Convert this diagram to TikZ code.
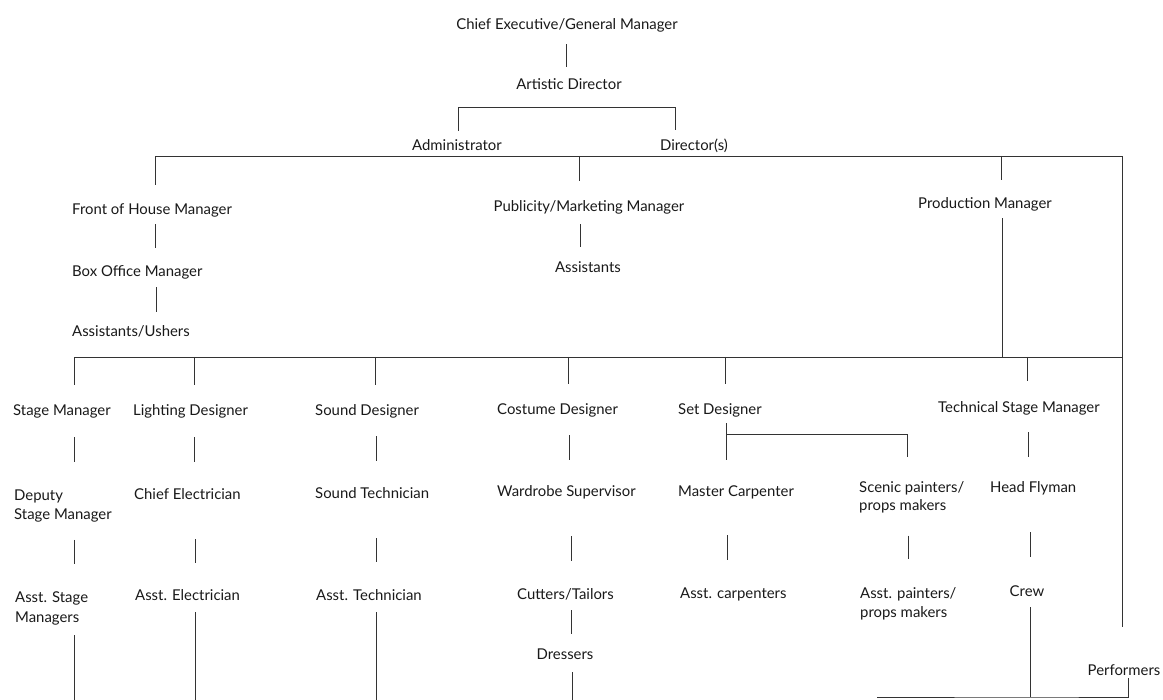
\documentclass[tikz,border=0pt]{standalone}
\usepackage{fontspec}
\setmainfont{Lato}
\newcommand\labfont{\fontsize{14.9}{19}\selectfont}
\tikzset{
  lbl/.style={inner sep=0pt, text height=10pt, text depth=3pt, font=\labfont, text=black!90},
  lblm/.style={inner sep=0pt, text height=10pt, anchor=base west, text=black!90},
  conn/.style={draw=black!80, line width=0.85pt},
}
\begin{document}
\begin{tikzpicture}[x=1pt,y=-1pt]
\useasboundingbox (0,0) rectangle (1163,700);
% ---------- nodes ----------
\node[lbl, anchor=base] (ce) at (567,30) {Chief Executive/General Manager};
\node[lbl, anchor=base] (ad) at (569,90) {Artistic Director};
\node[lbl, anchor=base] (adm) at (457,151) {Administrator};
\node[lbl, anchor=base] (dir) at (694,151) {Director(s)};
\node[lbl, anchor=base west] (foh) at (72,215) {Front of House Manager};
\node[lbl, anchor=base west] (box) at (72,277) {Box Office Manager};
\node[lbl, anchor=base west] (ush) at (72,337) {Assistants/Ushers};
\node[lbl, anchor=base] (pub) at (589,212) {Publicity/Marketing Manager};
\node[lbl, anchor=base] (pas) at (588,273) {Assistants};
\node[lbl, anchor=base] (pm) at (985,209) {Production Manager};
% row 3
\node[lbl, anchor=base west] (sm) at (13,416) {Stage Manager};
\node[lbl, anchor=base west] (ld) at (133,416) {Lighting Designer};
\node[lbl, anchor=base west] (sd) at (315,416) {Sound Designer};
\node[lbl, anchor=base west] (cd) at (497,415) {Costume Designer};
\node[lbl, anchor=base west] (setd) at (678,415) {Set Designer};
\node[lbl, anchor=base west] (tsm) at (938,413) {Technical Stage Manager};
% row 4
\node[lblm, font=\fontsize{14.9}{19}\selectfont] (dsm) at (14,501)
  {\begin{tabular}[t]{@{}l@{}}Deputy\\Stage Manager\end{tabular}};
\node[lbl, anchor=base west] (ce2) at (134,500) {Chief Electrician};
\node[lbl, anchor=base west] (st) at (315,499) {Sound Technician};
\node[lbl, anchor=base west] (ws) at (497,497) {Wardrobe Supervisor};
\node[lbl, anchor=base west] (mc) at (678,497) {Master Carpenter};
\node[lblm, font=\fontsize{14.9}{18}\selectfont] (sp) at (859,493)
  {\begin{tabular}[t]{@{}l@{}}Scenic painters/\\props makers\end{tabular}};
\node[lbl, anchor=base west] (hf) at (990,493) {Head Flyman};
% row 5
\node[lblm, font=\fontsize{14.9}{20}\selectfont] (asm) at (15,602)
  {\begin{tabular}[t]{@{}l@{}}Asst. Stage\\Managers\end{tabular}};
\node[lbl, anchor=base west] (ae) at (135,601) {Asst. Electrician};
\node[lbl, anchor=base west] (at) at (316,600) {Asst. Technician};
\node[lbl, anchor=base west] (ct) at (517,599) {Cutters/Tailors};
\node[lbl, anchor=base west] (ac) at (680,598) {Asst. carpenters};
\node[lblm, font=\fontsize{14.9}{19}\selectfont] (ap) at (860,598)
  {\begin{tabular}[t]{@{}l@{}}Asst. painters/\\props makers\end{tabular}};
\node[lbl, anchor=base] (crew) at (1027,597) {Crew};
\node[lbl, anchor=base] (dr) at (565,659) {Dressers};
\node[lbl, anchor=base] (perf) at (1124,675) {Performers};
% ---------- junction coordinates ----------
\coordinate (bA) at (458,107);
\coordinate (bB) at (675,107);
\coordinate (L1a) at (155,156);
\coordinate (L1b) at (1122,156);
\coordinate (jPub) at (579,156);
\coordinate (jPM) at (1001,156);
\coordinate (L2a) at (74,357);
\coordinate (L2b) at (1123,357);
\coordinate (jPM2) at (1002,357);
\coordinate (s1) at (194,357);
\coordinate (s2) at (375,357);
\coordinate (s3) at (568,357);
\coordinate (s4) at (725,357);
\coordinate (s5) at (1027,357);
\coordinate (br1) at (726,434);
\coordinate (br2) at (907,434);
\coordinate (e1) at (74,700);
\coordinate (e2) at (195,700);
\coordinate (e3) at (376,700);
\coordinate (e4) at (572,700);
\coordinate (bl0) at (877,697);
\coordinate (bl1) at (1030,697);
\coordinate (bl2) at (1128,697);
% ---------- connectors ----------
\draw[conn, shorten <=11pt, shorten >=13pt] (ce.south -| 566,0) -- (ad.north -| 566,0);
\draw[conn, shorten <=10pt, shorten >=11pt] (adm.north -| bA) -- (bA) -- (bB) -- (dir.north -| bB);
\draw[conn, shorten <=20pt, shorten >=38pt] (foh.north -| L1a) -- (L1a) -- (L1b) -- (perf.north -| L1b);
\draw[conn, shorten >=21pt] (jPub) -- (pub.north -| jPub);
\draw[conn, shorten >=19pt] (jPM) -- (pm.north -| jPM);
\draw[conn, shorten <=6pt, shorten >=19pt] (foh.south -| 155,0) -- (box.north -| 155,0);
\draw[conn, shorten <=7pt, shorten >=15pt] (box.south -| 156,0) -- (ush.north -| 156,0);
\draw[conn, shorten <=9pt, shorten >=16pt] (pub.south -| 580,0) -- (pas.north -| 580,0);
\draw[conn, shorten <=6pt] (pm.south -| jPM2) -- (jPM2);
% second level bar
\draw[conn, shorten <=21pt] (sm.north -| L2a) -- (L2a) -- (L2b);
\draw[conn, shorten >=21pt] (s1) -- (ld.north -| s1);
\draw[conn, shorten >=21pt] (s2) -- (sd.north -| s2);
\draw[conn, shorten >=21pt] (s3) -- (cd.north -| s3);
\draw[conn, shorten >=21pt] (s4) -- (setd.north -| s4);
\draw[conn, shorten >=22pt] (s5) -- (tsm.north -| s5);
% row 3 -> row 4
\draw[conn, shorten <=18pt, shorten >=29pt] (sm.south -| 74,0) -- (dsm.north -| 74,0);
\draw[conn, shorten <=18pt, shorten >=28pt] (ld.south -| 194,0) -- (ce2.north -| 194,0);
\draw[conn, shorten <=17pt, shorten >=28pt] (sd.south -| 376,0) -- (st.north -| 376,0);
\draw[conn, shorten <=17pt, shorten >=27pt] (cd.south -| 569,0) -- (ws.north -| 569,0);
\draw[conn, shorten <=5pt, shorten >=27pt] (setd.south -| 726,0) -- (mc.north -| 726,0);
\draw[conn, shorten >=26pt] (br1) -- (br2) -- (sp.north -| br2);
\draw[conn, shorten <=16pt, shorten >=26pt] (tsm.south -| 1028,0) -- (hf.north -| 1028,0);
% row 4 -> row 5
\draw[conn, shorten <=14pt, shorten >=28pt] (dsm.south -| 74,0) -- (asm.north -| 74,0);
\draw[conn, shorten <=36pt, shorten >=28pt] (ce2.south -| 195,0) -- (ae.north -| 195,0);
\draw[conn, shorten <=36pt, shorten >=28pt] (st.south -| 376,0) -- (at.north -| 376,0);
\draw[conn, shorten <=36pt, shorten >=28pt] (ws.south -| 571,0) -- (ct.north -| 571,0);
\draw[conn, shorten <=35pt, shorten >=28pt] (mc.south -| 727,0) -- (ac.north -| 727,0);
\draw[conn, shorten <=19pt, shorten >=29pt] (sp.south -| 908,0) -- (ap.north -| 908,0);
\draw[conn, shorten <=36pt, shorten >=30pt] (hf.south -| 1030,0) -- (crew.north -| 1030,0);
% row 5 downwards
\draw[conn, shorten <=7pt] (asm.south -| e1) -- (e1);
\draw[conn, shorten <=8pt] (ae.south -| e2) -- (e2);
\draw[conn, shorten <=9pt] (at.south -| e3) -- (e3);
\draw[conn, shorten <=8pt, shorten >=15pt] (ct.south -| 571,0) -- (dr.north -| 571,0);
\draw[conn, shorten <=10pt] (dr.south -| e4) -- (e4);
\draw[conn, shorten <=7pt] (crew.south -| bl1) -- (bl1);
\draw[conn] (bl0) -- (bl1) -- (bl2) -- (perf.south -| bl2);
\end{tikzpicture}
\end{document}
